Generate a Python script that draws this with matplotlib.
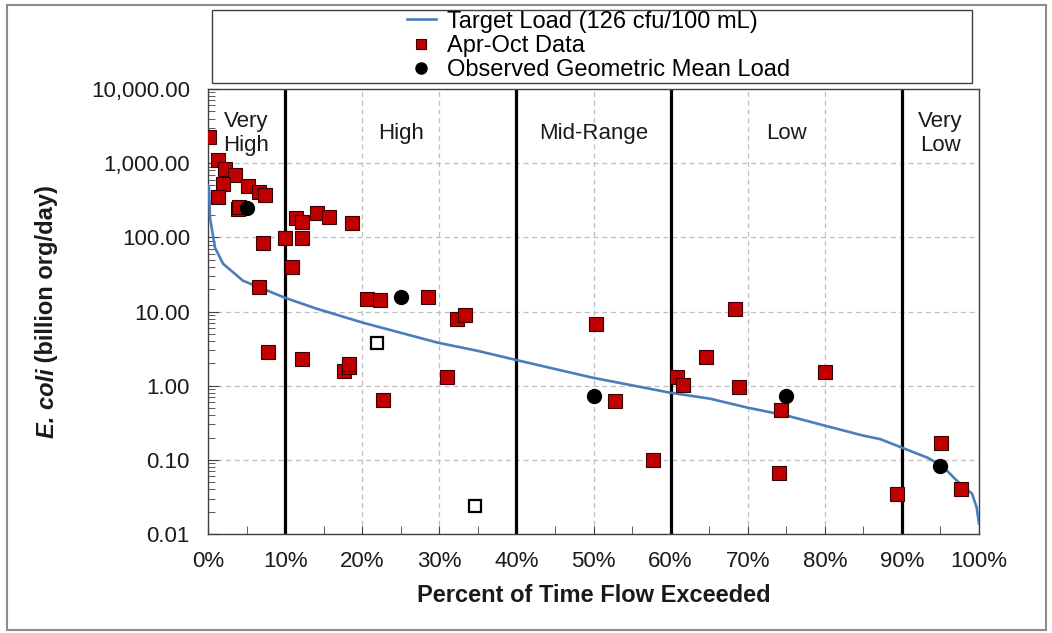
import matplotlib
matplotlib.use("Agg")
import matplotlib.pyplot as plt
from matplotlib.lines import Line2D
from matplotlib.patches import Rectangle
from matplotlib.ticker import FixedLocator, LogLocator, NullFormatter, FuncFormatter

plt.rcParams['font.family'] = ['Liberation Sans', 'DejaVu Sans']

# ---- data ----
curve_pct = [0, 0.13, 0.26, 0.91, 1.95, 4.54, 10.0, 14.1, 20.1, 29.8, 34.9, 39.8,
             49.9, 59.9, 65.1, 70.0, 75.1, 80.0, 85.0, 87.2, 90.0, 93.3, 95.2,
             97.5, 99.1, 99.7, 100]
curve_load = [496, 466, 184, 72.4, 44.1, 26.0, 15.3, 10.9, 7.06, 3.8, 2.96, 2.24,
              1.28, 0.805, 0.668, 0.505, 0.394, 0.289, 0.212, 0.190, 0.146, 0.107,
              0.0835, 0.0478, 0.035, 0.0227, 0.0138]

data_pct = [0.17, 1.34, 2.24, 3.46, 1.91, 5.19, 1.34, 6.65, 7.43, 3.89, 4.06,
            7.09, 9.99, 11.41, 12.15, 14.10, 15.73, 18.64, 12.15, 10.93, 6.65,
            20.58, 22.35, 28.5, 32.26, 33.33, 7.82, 12.15, 17.6, 18.33, 18.33,
            31.04, 22.7, 50.32, 52.79, 57.76, 60.79, 61.65, 64.59, 68.35, 68.87,
            80.0, 74.28, 74.02, 89.32, 95.07, 97.63]
data_load = [2220, 1100, 840, 683, 523, 491, 345, 412, 375, 241, 253,
             82.7, 98.8, 182, 159, 213, 190, 154, 98.8, 40.2, 21.6,
             14.7, 14.3, 15.7, 7.9, 8.86, 2.87, 2.29, 1.58, 1.78, 1.95,
             1.29, 0.642, 6.78, 0.614, 0.0997, 1.29, 1.03, 2.46, 10.8, 0.97,
             1.51, 0.475, 0.0673, 0.0343, 0.171, 0.040]

open_pct = [21.88, 34.67]
open_load = [3.76, 0.0239]

gm_pct = [5, 25, 50, 75, 95]
gm_load = [248, 15.7, 0.726, 0.726, 0.0817]

zone_bounds = [10, 40, 60, 90]
zone_labels = ["Very\nHigh", "High", "Mid-Range", "Low", "Very\nLow"]
zone_centers = [5, 25, 50, 75, 95]

x_ticks = [0, 10, 20, 30, 40, 50, 60, 70, 80, 90, 100]
y_ticks = [0.01, 0.1, 1, 10, 100, 1000, 10000]

legend_labels = ["Target Load (126 cfu/100 mL)", "Apr-Oct Data",
                 "Observed Geometric Mean Load"]

# ---- figure ----
W, H = 1052, 633
fig = plt.figure(figsize=(W / 100, H / 100), dpi=100)
ax = fig.add_axes([208 / W, 1 - 534 / H, (979 - 208) / W, (534 - 89) / H])

ax.set_yscale('log')
ax.set_xlim(0, 100)
ax.set_ylim(0.01, 10000)

blue = '#4A7EBB'
red = '#C00000'

ax.grid(True, which='major', axis='both', color='#BFBFBF', linestyle=(0, (4, 3)),
        linewidth=0.9, zorder=0)
ax.set_axisbelow(True)

for b in zone_bounds:
    ax.axvline(b, color='black', linewidth=2.3, zorder=2)

ax.plot(curve_pct, curve_load, color=blue, linewidth=1.9, zorder=3)
ax.plot(data_pct, data_load, linestyle='none', marker='s', markersize=9.5,
        markerfacecolor=red, markeredgecolor='#3a0000', markeredgewidth=0.8, zorder=4)
ax.plot(open_pct, open_load, linestyle='none', marker='s', markersize=8.5,
        markerfacecolor='white', markeredgecolor='black', markeredgewidth=1.6, zorder=4)
ax.plot(gm_pct, gm_load, linestyle='none', marker='o', markersize=10,
        markerfacecolor='black', markeredgecolor='black', zorder=5)

for xc, lab in zip(zone_centers, zone_labels):
    ax.text(xc, 10 ** 3.40, lab, ha='center', va='center', fontsize=16,
            linespacing=1.2, color='#1a1a1a', zorder=6)

# ticks
ax.xaxis.set_major_locator(FixedLocator(x_ticks))
ax.xaxis.set_minor_locator(FixedLocator([5, 15, 25, 35, 45, 55, 65, 75, 85, 95]))
ax.xaxis.set_major_formatter(FuncFormatter(lambda v, p: f"{int(round(v))}%"))
ax.yaxis.set_major_locator(FixedLocator(y_ticks))
ax.yaxis.set_minor_locator(LogLocator(base=10, subs=range(2, 10)))
ax.yaxis.set_minor_formatter(NullFormatter())
ax.yaxis.set_major_formatter(FuncFormatter(lambda v, p: f"{v:,.2f}"))

ax.tick_params(axis='both', which='both', direction='in', top=False, right=False,
               color='#404040')
ax.tick_params(axis='x', which='major', length=6, labelsize=16, pad=12, colors='#1a1a1a')
ax.tick_params(axis='x', which='minor', length=6)
ax.tick_params(axis='y', which='major', length=8, labelsize=16, pad=13, colors='#1a1a1a')
ax.tick_params(axis='y', which='minor', length=5)
ax.tick_params(axis='both', which='both', color='#404040')

for s in ax.spines.values():
    s.set_color('#404040')
    s.set_linewidth(1.0)

ax.set_xlabel("Percent of Time Flow Exceeded", fontsize=17, fontweight='bold',
              color='#1a1a1a', labelpad=9)

# y label with italic "E. coli"
fig.canvas.draw()
renderer = fig.canvas.get_renderer()
ycx = 47 / W
t1 = fig.text(ycx, 0, "E. coli", rotation=90, fontsize=17, fontweight='bold',
              fontstyle='italic', ha='center', va='bottom', color='#1a1a1a')
t2 = fig.text(ycx, 0, " (billion org/day)", rotation=90, fontsize=17, fontweight='bold',
              ha='center', va='bottom', color='#1a1a1a')
h1 = t1.get_window_extent(renderer).height
h2 = t2.get_window_extent(renderer).height
total = h1 + h2
center_px = H - 311.5
start = center_px - total / 2
t1.set_y(start / H)
t2.set_y((start + h1) / H)

# legend box
fig.patches.append(Rectangle((212 / W, 1 - 83 / H), (972 - 212) / W, (83 - 10) / H,
                             transform=fig.transFigure, fill=False,
                             edgecolor='#404040', linewidth=1.0))
handles = [Line2D([], [], color=blue, linewidth=1.9),
           Line2D([], [], linestyle='none', marker='s', markersize=7,
                  markerfacecolor=red, markeredgecolor='#3a0000', markeredgewidth=0.8),
           Line2D([], [], linestyle='none', marker='o', markersize=8,
                  markerfacecolor='black', markeredgecolor='black')]
fig.legend(handles, legend_labels, loc='center left',
           bbox_to_anchor=(386 / W, 1 - 46 / H), frameon=False, fontsize=17,
           handlelength=1.2, handletextpad=0.5, labelspacing=0.1, borderpad=0.4)

# outer border
fig.patches.append(Rectangle((7 / W, 1 - 630 / H), (1046 - 7) / W, (630 - 5) / H,
                             transform=fig.transFigure, fill=False,
                             edgecolor='#8c8c8c', linewidth=1.5))

fig.savefig("out.png", dpi=100)
